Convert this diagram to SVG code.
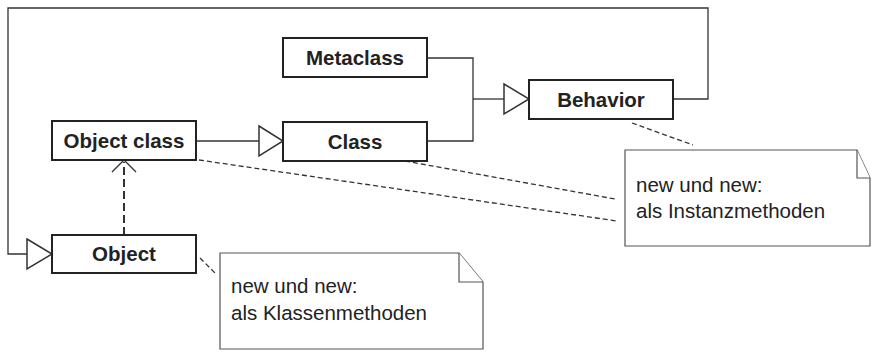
<svg xmlns="http://www.w3.org/2000/svg" width="873" height="352" viewBox="0 0 873 352">
  <style>
    .box { fill: #fff; stroke: #222; stroke-width: 2; }
    .lbl { font-family: "Liberation Sans", Arial, sans-serif; font-weight: bold; font-size: 20.5px; fill: #222; text-anchor: middle; }
    .line { fill: none; stroke: #333; stroke-width: 1.3; }
    .tri { fill: #fff; stroke: #333; stroke-width: 1.5; }
    .dep { fill: none; stroke: #333; stroke-width: 2; stroke-dasharray: 8 4; }
    .anchor { fill: none; stroke: #333; stroke-width: 1.3; stroke-dasharray: 5 3; }
    .note { fill: #fff; stroke: #555; stroke-width: 1.2; }
    .ntxt { font-family: "Liberation Sans", Arial, sans-serif; font-size: 20.5px; fill: #222; }
  </style>

  <g id="connectors">
    <!-- Behavior -> loop back to Object (generalization) -->
    <polyline class="line" points="673,99 708,99 708,8 8,8 8,254 27,254"/>
    <polygon class="tri" points="27,239 52,254 27,269"/>
    <!-- Object class -> Class -->
    <line class="line" x1="196" y1="141" x2="259" y2="141"/>
    <polygon class="tri" points="259,126 283,141 259,156"/>
    <!-- Metaclass and Class -> Behavior -->
    <polyline class="line" points="427,58 473,58 473,141 427,141"/>
    <line class="line" x1="473" y1="99" x2="504" y2="99"/>
    <polygon class="tri" points="504,84 529,99 504,114"/>
    <!-- Object instance-of Object class -->
    <line class="dep" x1="124" y1="235" x2="124" y2="162"/>
    <polyline class="line" points="112,172 124,160 136,172"/>
    <!-- note anchors -->
    <line class="anchor" x1="632" y1="123" x2="693" y2="145"/>
    <line class="anchor" x1="405" y1="161" x2="615" y2="199"/>
    <line class="anchor" x1="199" y1="160" x2="617" y2="221"/>
    <line class="anchor" x1="200" y1="258" x2="215" y2="273"/>
  </g>

  <g id="metaclass">
    <rect class="box" x="283" y="38" width="144" height="39"/>
    <text class="lbl" x="355" y="65">Metaclass</text>
  </g>
  <g id="class">
    <rect class="box" x="283" y="122" width="144" height="39"/>
    <text class="lbl" x="355" y="149">Class</text>
  </g>
  <g id="behavior">
    <rect class="box" x="529" y="80" width="144" height="39"/>
    <text class="lbl" x="601" y="107">Behavior</text>
  </g>
  <g id="object-class">
    <rect class="box" x="52" y="121" width="144" height="39"/>
    <text class="lbl" x="124" y="148">Object class</text>
  </g>
  <g id="object">
    <rect class="box" x="52" y="235" width="144" height="38"/>
    <text class="lbl" x="124" y="261">Object</text>
  </g>

  <g id="note-instance">
    <path class="note" d="M625,150 H857 L870,178 V246 H625 Z"/>
    <polyline class="note" points="857,150 857,178 870,178"/>
    <text class="ntxt" x="636" y="192">new und new:</text>
    <text class="ntxt" x="636" y="218">als Instanzmethoden</text>
  </g>
  <g id="note-class">
    <path class="note" d="M220,253 H459 L483,282 V349 H220 Z"/>
    <polyline class="note" points="459,253 459,282 483,282"/>
    <text class="ntxt" x="231" y="293">new und new:</text>
    <text class="ntxt" x="231" y="320">als Klassenmethoden</text>
  </g>
</svg>
